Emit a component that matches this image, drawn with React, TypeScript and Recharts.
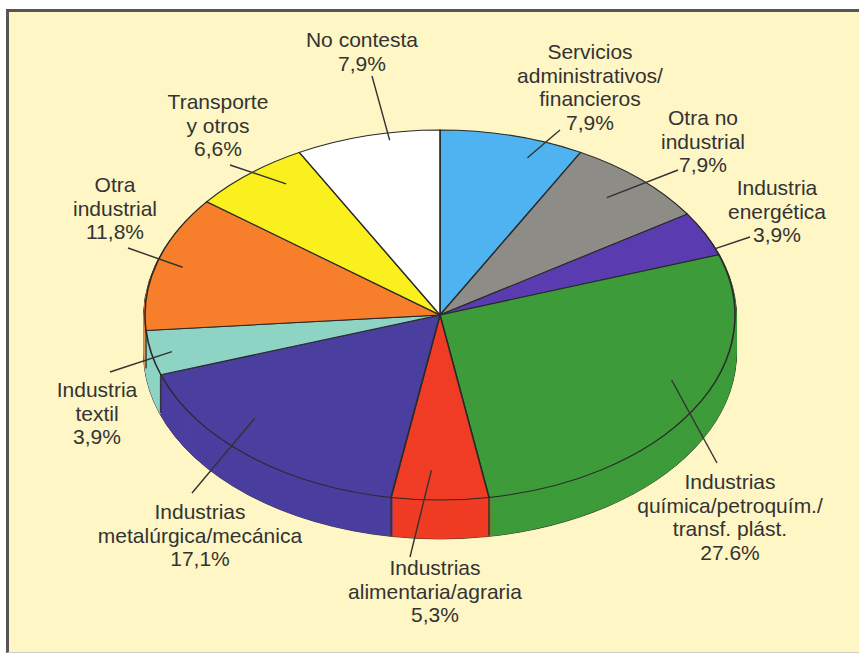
import { PieChart, Pie, Cell } from 'recharts';

// slices, clockwise from 12 o'clock
const SECTORS = [
  'Servicios administrativos/financieros',
  'Otra no industrial',
  'Industria energética',
  'Industrias química/petroquím./transf. plást.',
  'Industrias alimentaria/agraria',
  'Industrias metalúrgica/mecánica',
  'Industria textil',
  'Otra industrial',
  'Transporte y otros',
  'No contesta',
];
const SHARES = [7.9, 7.9, 3.9, 27.6, 5.3, 17.1, 3.9, 11.8, 6.6, 7.9];
const COLORS = [
  '#4fb3f2', '#8e8c86', '#5b3cb0', '#3d9b3a', '#f03c24',
  '#4a3e9f', '#8ed4c4', '#f77f2c', '#f9f01e', '#ffffff',
];
const LABEL_LINES = [
  ['Servicios', 'administrativos/', 'financieros'],
  ['Otra no', 'industrial'],
  ['Industria', 'energética'],
  ['Industrias', 'química/petroquím./', 'transf. plást.'],
  ['Industrias', 'alimentaria/agraria'],
  ['Industrias', 'metalúrgica/mecánica'],
  ['Industria', 'textil'],
  ['Otra', 'industrial'],
  ['Transporte', 'y otros'],
  ['No contesta'],
];
const PCT_LABELS = ['7,9%', '7,9%', '3,9%', '27.6%', '5,3%', '17,1%', '3,9%', '11,8%', '6,6%', '7,9%'];

const data = SECTORS.map((name, i) => ({ name, value: SHARES[i] }));

// geometry of the tilted pie
const W = 859;
const H = 655;
const CX = 440;
const CY = 315;
const RX = 295;
const RY = 185;
const S = RY / RX;
const DEPTH = 38;
const STEP = 2;
const LINE_H = 23.5;

// text block (tx, first baseline ty), leader end near text (lx, ly),
// inner end at midAngle + da, radius fraction r
const LABEL_LAYOUT = [
  { tx: 590, ty: 59, lx: 560, ly: 130, da: -5, r: 0.9 },
  { tx: 703, ty: 125, lx: 678, ly: 170, da: 1, r: 0.85 },
  { tx: 777, ty: 195, lx: 750, ly: 237, da: -5, r: 1.0 },
  { tx: 730, ty: 489, lx: 717, ly: 463, da: 6.6, r: 0.86 },
  { tx: 435, ty: 575, lx: 410, ly: 557, da: -2, r: 0.84 },
  { tx: 200, ty: 519, lx: 192, ly: 493, da: -8, r: 0.84 },
  { tx: 97, ty: 397, lx: 110, ly: 372, da: 0.5, r: 0.93 },
  { tx: 115, ty: 192, lx: 128, ly: 248, da: 0, r: 0.91 },
  { tx: 218, ty: 109, lx: 230, ly: 165, da: -4, r: 0.88 },
  { tx: 362, ty: 47, lx: 372, ly: 76, da: -4, r: 0.96 },
];

const layers: number[] = [];
for (let k = DEPTH; k > 0; k -= STEP) layers.push(k);

const RAD = Math.PI / 180;

const renderLabel = (props: any) => {
  const { index, midAngle, startAngle } = props;
  const lay = LABEL_LAYOUT[index];
  const a = (midAngle + lay.da) * RAD;
  const ix = CX + RX * lay.r * Math.cos(a);
  const iy = CY - RY * lay.r * Math.sin(a);
  const lines = [...LABEL_LINES[index], PCT_LABELS[index]];
  const sa = startAngle * RAD;
  const sx = CX + RX * Math.cos(sa);
  const sy = CY - RY * Math.sin(sa);
  const seam = Math.sin(sa) < -0.05;
  return (
    <g key={`lbl-${index}`}>
      {seam && <line x1={sx} y1={sy} x2={sx} y2={sy + DEPTH} stroke="#2a2a2a" strokeWidth={1.3} />}
      <line x1={lay.lx} y1={lay.ly} x2={ix} y2={iy} stroke="#333" strokeWidth={1.4} />
      <text
        x={lay.tx}
        y={lay.ty}
        textAnchor="middle"
        fill="#333"
        fontSize={21}
        fontFamily="'Liberation Sans', Arial, sans-serif"
      >
        {lines.map((l, i) => (
          <tspan key={i} x={lay.tx} dy={i === 0 ? 0 : LINE_H}>{l}</tspan>
        ))}
      </text>
    </g>
  );
};

const App = () => {
  return (
    <div style={{ position: 'absolute', left: 0, top: 0, width: W, height: H, background: '#fff', overflow: 'hidden' }}>
      <div
        style={{
          position: 'absolute', left: 6, top: 9, width: 870, height: 640,
          background: '#fef6c4', borderLeft: '3px solid #555', borderTop: '3px solid #555',
          borderBottom: '1px solid #ccc',
        }}
      />
      {/* pie body, squashed into an ellipse */}
      <div style={{ position: 'absolute', left: 0, top: 0, transform: `scaleY(${S})`, transformOrigin: '0 0' }}>
        <PieChart width={W} height={Math.ceil(H / S)} margin={{ top: 0, right: 0, bottom: 0, left: 0 }}>
          {layers.map((k) => (
            <Pie
              key={`edge-${k}`}
              data={data}
              dataKey="value"
              cx={CX}
              cy={(CY + k) / S}
              outerRadius={RX + 1.5}
              startAngle={90}
              endAngle={-270}
              fill="#2a2a2a"
              stroke="#2a2a2a"
              strokeWidth={1}
              isAnimationActive={false}
            />
          ))}
          {layers.map((k) => (
            <Pie
              key={`side-${k}`}
              data={data}
              dataKey="value"
              cx={CX}
              cy={(CY + k) / S}
              outerRadius={RX}
              startAngle={90}
              endAngle={-270}
              strokeWidth={3}
              isAnimationActive={false}
            >
              {data.map((d, i) => (
                <Cell key={d.name} fill={COLORS[i]} stroke={COLORS[i]} />
              ))}
            </Pie>
          ))}
          <Pie
            data={data}
            dataKey="value"
            cx={CX}
            cy={CY / S}
            outerRadius={RX}
            startAngle={90}
            endAngle={-270}
            stroke="#2a2a2a"
            strokeWidth={1.6}
            isAnimationActive={false}
          >
            {data.map((d, i) => (
              <Cell key={d.name} fill={COLORS[i]} />
            ))}
          </Pie>
        </PieChart>
      </div>
      {/* labels and leader lines, unsquashed */}
      <div style={{ position: 'absolute', left: 0, top: 0 }}>
        <PieChart width={W} height={H} margin={{ top: 0, right: 0, bottom: 0, left: 0 }}>
          <Pie
            data={data}
            dataKey="value"
            cx={CX}
            cy={CY}
            outerRadius={RX}
            startAngle={90}
            endAngle={-270}
            fill="none"
            stroke="none"
            label={renderLabel}
            labelLine={false}
            isAnimationActive={false}
          />
        </PieChart>
      </div>
    </div>
  );
};

export default App;
